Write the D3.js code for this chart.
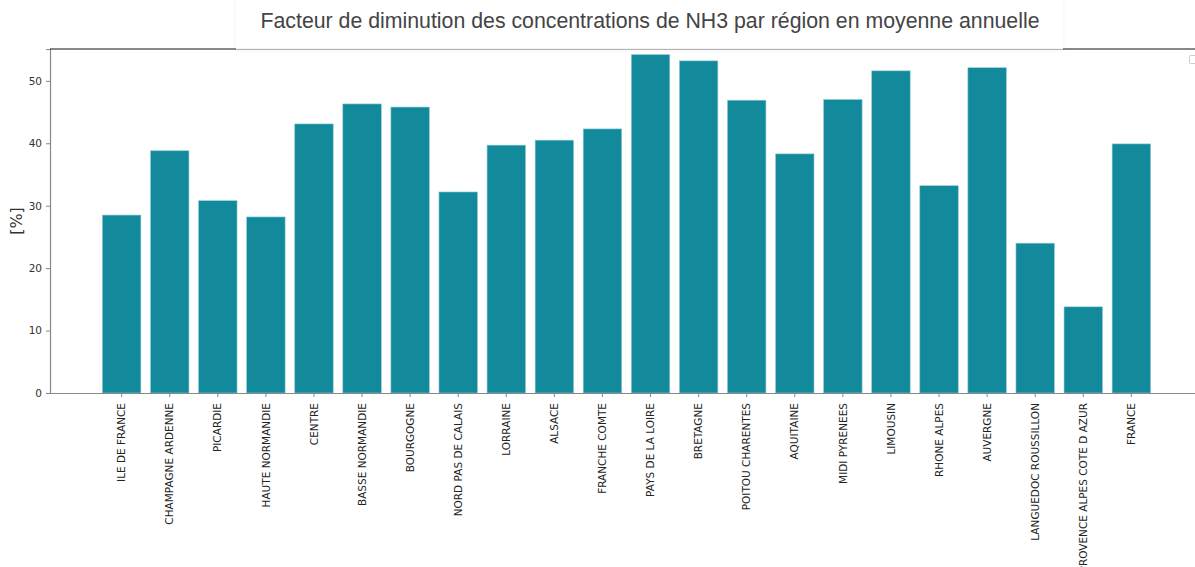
<!DOCTYPE html>
<html>
<head>
<meta charset="utf-8">
<script src="https://cdn.jsdelivr.net/npm/d3@7"></script>
<style>
  body { margin: 0; background: #fff; }
  svg { display: block; font-family: "DejaVu Sans", sans-serif; }
</style>
</head>
<body>
<div id="chart"></div>
<script>
// regions, in drawing order
const regions = ["ILE DE FRANCE", "CHAMPAGNE ARDENNE", "PICARDIE", "HAUTE NORMANDIE", "CENTRE",
    "BASSE NORMANDIE", "BOURGOGNE", "NORD PAS DE CALAIS", "LORRAINE", "ALSACE", "FRANCHE COMTE",
    "PAYS DE LA LOIRE", "BRETAGNE", "POITOU CHARENTES", "AQUITAINE", "MIDI PYRENEES", "LIMOUSIN",
    "RHONE ALPES", "AUVERGNE", "LANGUEDOC ROUSSILLON", "PROVENCE ALPES COTE D AZUR", "FRANCE"];

// reduction factor [%]
const reduction = [28.5, 38.8, 30.8, 28.2, 43.1, 46.3, 45.8, 32.2, 39.7, 40.5, 42.3,
    54.2, 53.2, 46.9, 38.3, 47.0, 51.6, 33.2, 52.1, 24.0, 13.8, 39.9];

const yTicks = [0, 10, 20, 30, 40, 50];

const width = 1195, height = 567;
const margin = {top: 49, right: -8, bottom: 174, left: 50};

const svg = d3.select("#chart")
    .append("svg")
    .attr("width", width)
    .attr("height", height);

const data = regions.map((r, i) => ({region: r, value: reduction[i]}));

// band scale, outer padding mimics matplotlib's default margins
const x = d3.scaleBand()
    .domain(regions)
    .range([margin.left, width - margin.right])
    .paddingInner(0.2)
    .paddingOuter(1.09);

const y = d3.scaleLinear()
    .domain([0, 55.1])
    .range([height - margin.bottom, margin.top]);

// bars
svg.append("g")
    .selectAll("rect")
    .data(data)
    .enter().append("rect")
    .attr("x", d => x(d.region))
    .attr("y", d => y(d.value))
    .attr("width", x.bandwidth())
    .attr("height", d => y(0) - y(d.value))
    .attr("fill", "#128a9b")
    .attr("stroke", "#8fcbd4")
    .attr("stroke-width", 0.6);

// y axis
const yAxis = svg.append("g")
    .attr("transform", "translate(" + margin.left + ",0)")
    .call(d3.axisLeft(y).tickValues(yTicks).tickSize(4).tickPadding(4));
yAxis.attr("font-family", "DejaVu Sans");
yAxis.select(".domain").attr("stroke", "#888").attr("stroke-width", 1.2);
yAxis.selectAll(".tick line").attr("stroke", "#888");
yAxis.selectAll(".tick text")
    .style("font-size", "10.5px")
    .attr("fill", "#333");

// x axis
const xAxis = svg.append("g")
    .attr("transform", "translate(0," + y(0) + ")")
    .call(d3.axisBottom(x).tickSize(4).tickSizeOuter(0));
xAxis.attr("font-family", "DejaVu Sans");
xAxis.select(".domain").attr("stroke", "#888").attr("stroke-width", 1.2)
    .attr("d", "M" + margin.left + ",0.5H" + width);
xAxis.selectAll(".tick line").attr("stroke", "#888");
xAxis.selectAll(".tick text")
    .style("font-size", "10.5px")
    .attr("fill", "#222")
    .attr("text-anchor", "end")
    .attr("transform", "rotate(-90)")
    .attr("x", -10)
    .attr("y", 0)
    .attr("dy", "0.35em");

// top spine
svg.append("line")
    .attr("x1", margin.left).attr("x2", width)
    .attr("y1", margin.top).attr("y2", margin.top)
    .attr("stroke", "#111")
    .attr("stroke-width", 1);

// y label
svg.append("text")
    .attr("transform", "translate(22," + ((margin.top + y(0)) / 2) + ") rotate(-90)")
    .attr("text-anchor", "middle")
    .style("font-size", "16px")
    .attr("fill", "#333")
    .text("[%]");

// title box sitting over the top spine
const defs = svg.append("defs");
const blur = defs.append("filter").attr("id", "soft")
    .attr("x", "-5%").attr("y", "-20%").attr("width", "110%").attr("height", "150%");
blur.append("feDropShadow")
    .attr("dx", 0).attr("dy", 1).attr("stdDeviation", 2)
    .attr("flood-color", "#000").attr("flood-opacity", 0.06);

svg.append("rect")
    .attr("x", 236).attr("y", -5)
    .attr("width", 827).attr("height", 54)
    .attr("fill", "#fff")
    .attr("filter", "url(#soft)");
svg.append("line")
    .attr("x1", 236).attr("x2", 1063)
    .attr("y1", 49).attr("y2", 49)
    .attr("stroke", "#e6e6e6");

svg.append("text")
    .attr("x", 650)
    .attr("y", 28)
    .attr("text-anchor", "middle")
    .style("font-family", "'Liberation Sans', Arial, sans-serif")
    .style("font-size", "21.3px")
    .attr("fill", "#444")
    .text("Facteur de diminution des concentrations de NH3 par région en moyenne annuelle");

// empty legend stub at the right edge
svg.append("rect")
    .attr("x", 1189.5).attr("y", 55.5)
    .attr("width", 10).attr("height", 8)
    .attr("rx", 1)
    .attr("fill", "#fff")
    .attr("stroke", "#ccc");
</script>
</body>
</html>
